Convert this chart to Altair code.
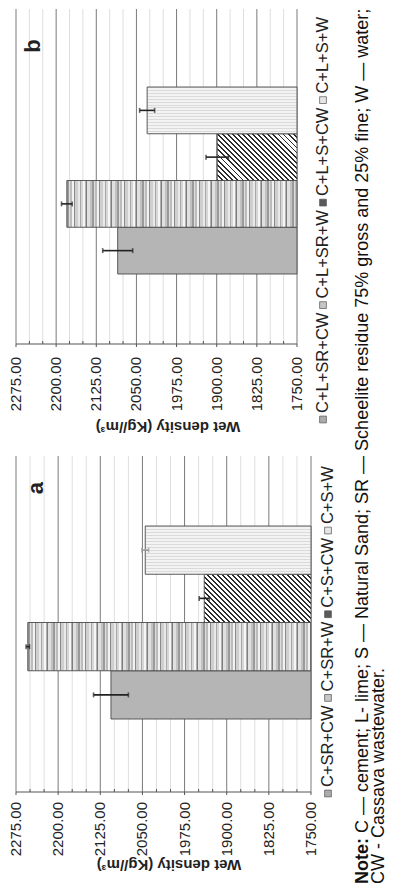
import altair as alt
import pandas as pd

# Wet density (kg/m3) of the mortar mixes, with standard deviations
mixes_a = ["C+SR+CW", "C+SR+W", "C+S+CW", "C+S+W"]
density_a = [2106, 2254, 1940, 2045]
sd_a = [31, 3, 9, 6]

mixes_b = ["C+L+SR+CW", "C+L+SR+W", "C+L+S+CW", "C+L+S+W"]
density_b = [2085, 2180, 1899, 2030]
sd_b = [28, 10, 21, 14]

axis_values = [2275, 2200, 2125, 2050, 1975, 1900, 1825, 1750]
minor_values = [2250, 2225, 2175, 2150, 2100, 2075, 2025, 2000,
                1950, 1925, 1875, 1850, 1800, 1775]
AXIS_MIN, AXIS_MAX = 1750, 2275
axis_title = "Wet density (Kg//m\u00b3)"

note_head = "Note:"
note_line1 = "C \u2014 cement; L- lime; S \u2014 Natural Sand; SR \u2014 Scheelite residue 75% gross and 25% fine; W \u2014 water;"
note_line2 = "CW - Cassava wastewater."

FONT = "Liberation Sans"
INK = "#222222"

# Arial/Liberation advance widths (em) for the legend glyphs
ADV = {"C": .722, "+": .584, "L": .556, "S": .667, "R": .722, "W": .944}


def text_w(s, size):
    return sum(ADV[c] for c in s) * size


def stop(o, c):
    return alt.GradientStop(offset=min(max(o, 0.0), 1.0), color=c)


def stripes_fill(w):
    """Irregular vertical stripes across the bar length."""
    shades = ["#9a9a9a", "#dedede", "#bcbcbc", "#f2f2f2", "#8a8a8a", "#cfcfcf", "#e9e9e9",
              "#a8a8a8", "#d6d6d6", "#f6f6f6", "#b0b0b0", "#7e7e7e", "#e0e0e0", "#c2c2c2"]
    widths = [2, 1, 2, 2, 1, 3, 2, 1, 2, 2, 1, 1, 3, 2]
    stops, pos, i = [], 0.0, 0
    while pos < w:
        k = i % len(shades)
        a, b = pos / w, min(pos + widths[k], w) / w
        stops += [stop(a, shades[k]), stop(b, shades[k])]
        pos += widths[k]
        i += 1
    return alt.LinearGradient(gradient="linear", stops=stops, x1=0, y1=0, x2=1, y2=0)


def hatch_fill(w, h, spacing=5.0, frac=0.38, dark="#2b2b2b", light="#ffffff"):
    """45-degree '\\' hatching drawn with a repeating linear gradient."""
    r = h / w
    c = (1 + r) / (1 + r * r)
    n = max(1, round((w + h) / spacing))
    stops = []
    for k in range(n):
        a, b, e = k / n, (k + frac) / n, (k + 1) / n
        stops += [stop(a, dark), stop(b, dark), stop(b, light), stop(e, light)]
    return alt.LinearGradient(gradient="linear", stops=stops, x1=0, y1=1, x2=c, y2=1 - c * r)


def dots_fill(h, dark="#dadada", light="#f3f3f3", period=3.0):
    """Fine rows of light dots."""
    n = max(1, round(h / period))
    stops = []
    for k in range(n):
        a, b, e = k / n, (k + 0.34) / n, (k + 1) / n
        stops += [stop(a, dark), stop(b, dark), stop(b, light), stop(e, light)]
    return alt.LinearGradient(gradient="linear", stops=stops, x1=0, y1=0, x2=0, y2=1)


SWATCH = ["#ababab", "#c6c6c6", "#5a5a5a", "#e6e6e6"]


def panel(tag, mixes, dens, sds, err_colors, width, height, band_range,
          label_gap, title_x, title_y, tag_xy, legend_x, legend_y0, extra=()):
    df = pd.DataFrame({"mix": mixes, "density": dens, "sd": sds, "ecol": err_colors})
    df["base"] = AXIS_MIN
    df["lo"] = df["density"] - df["sd"]
    df["hi"] = df["density"] + df["sd"]

    xs = alt.Scale(domain=[AXIS_MIN, AXIS_MAX], reverse=True, nice=False, zero=False)
    ys = alt.Scale(domain=list(reversed(mixes)), paddingInner=0, paddingOuter=0,
                   range=list(band_range))
    step = (band_range[1] - band_range[0]) / len(mixes)
    px = lambda v: (v - AXIS_MIN) / (AXIS_MAX - AXIS_MIN) * width

    major = alt.Chart(pd.DataFrame({"v": axis_values,
                                    "lab": [f"{v:.2f}" for v in axis_values]}))
    minor = alt.Chart(pd.DataFrame({"v": minor_values}))
    X = lambda f: alt.X(f, scale=xs, axis=None)

    layers = [
        # value axis: grid, domain line, ticks, labels and title
        minor.mark_rule(color="#dedede", strokeWidth=1).encode(x=X("v:Q")),
        major.mark_rule(color="#7a7a7a", strokeWidth=1).encode(x=X("v:Q")),
        alt.Chart(pd.DataFrame({"a": [AXIS_MAX], "b": [AXIS_MIN]}))
        .mark_rule(color="#555555", strokeWidth=1)
        .encode(x=X("a:Q"), x2="b:Q", y=alt.value(height)),
        minor.mark_rule(color="#555555", strokeWidth=1).encode(
            x=X("v:Q"), y=alt.value(height - 3), y2=alt.value(height)),
        major.mark_rule(color="#555555", strokeWidth=1).encode(
            x=X("v:Q"), y=alt.value(height), y2=alt.value(height + 3)),
        major.mark_text(angle=270, fontSize=15, color=INK, align="right",
                        baseline="middle").encode(
            x=X("v:Q"), y=alt.value(height + label_gap), text="lab:N"),
        alt.Chart(pd.DataFrame({"t": [axis_title]}))
        .mark_text(angle=180, fontSize=15, fontWeight="bold", color=INK,
                   align="center", baseline="middle")
        .encode(x=alt.value(title_x), y=alt.value(height + title_y), text="t:N"),
    ]

    base = alt.Chart(df)
    fills = [
        "#b5b5b5",
        stripes_fill(px(dens[1])),
        hatch_fill(px(dens[2]), step),
        dots_fill(step),
    ]
    for m, f in zip(mixes, fills):
        layers.append(
            base.transform_filter(alt.datum.mix == m)
            .mark_bar(fill=f, stroke="#4a4a4a", strokeWidth=0.9)
            .encode(x=X("density:Q"), x2="base:Q",
                    y=alt.Y("mix:N", scale=ys, axis=None))
        )

    # error bars with end caps
    layers.append(base.mark_rule(strokeWidth=1.6).encode(
        x=X("lo:Q"), x2="hi:Q",
        y=alt.Y("mix:N", scale=ys, axis=None),
        color=alt.Color("ecol:N", scale=None)))
    for f in ["lo", "hi"]:
        layers.append(base.mark_tick(thickness=1.6, size=5).encode(
            x=X(f + ":Q"),
            y=alt.Y("mix:N", scale=ys, axis=None),
            color=alt.Color("ecol:N", scale=None)))

    one = alt.Chart(pd.DataFrame({"t": [tag]}))
    layers.append(one.mark_text(angle=270, fontSize=22, fontWeight="bold", color=INK,
                                align="center", baseline="middle").encode(
        x=alt.value(tag_xy[0]), y=alt.value(tag_xy[1]), text="t:N"))

    # legend, read bottom to top
    size = 16.5
    y = legend_y0
    for m, col in zip(mixes, SWATCH):
        sw = alt.Chart(pd.DataFrame({"t": [m]}))
        layers.append(sw.mark_square(size=46, fill=col, stroke="#555555", strokeWidth=0.7,
                                     opacity=1).encode(x=alt.value(legend_x), y=alt.value(y - 3.5)))
        ty = y - 10
        layers.append(sw.mark_text(angle=270, fontSize=size, color=INK, align="left",
                                   baseline="middle").encode(
            x=alt.value(legend_x), y=alt.value(ty), text="t:N"))
        y = ty - text_w(m, size) - 4

    layers.extend(extra)
    return alt.layer(*layers).properties(width=width, height=height)


# the note runs along the right edge, drawn from the lower panel
NOTE_SIZE = 18
note_df = alt.Chart(pd.DataFrame({"h": [note_head], "l1": [note_line1], "l2": [note_line2]}))
note_layers = [
    note_df.mark_text(angle=270, fontSize=NOTE_SIZE, fontWeight="bold", color="#111111",
                      align="left", baseline="middle").encode(
        x=alt.value(346.5), y=alt.value(428), text="h:N"),
    note_df.mark_text(angle=270, fontSize=NOTE_SIZE, color="#111111",
                      align="left", baseline="middle").encode(
        x=alt.value(346.5), y=alt.value(428 - 2.833 * NOTE_SIZE), text="l1:N"),
    note_df.mark_text(angle=270, fontSize=NOTE_SIZE, color="#111111",
                      align="left", baseline="middle").encode(
        x=alt.value(362.5), y=alt.value(428), text="l2:N"),
]

panel_b = panel("b", mixes_b, density_b, sd_b, ["#222222"] * 4,
                width=281, height=335, band_range=(78, 265),
                label_gap=13, title_x=152, title_y=83, tag_xy=(17, 37),
                legend_x=307, legend_y0=414)

panel_a = panel("a", mixes_a, density_a, sd_a, ["#222222", "#222222", "#222222", "#9a9a9a"],
                width=295, height=336, band_range=(70, 263),
                label_gap=10, title_x=153, title_y=73, tag_xy=(20, 32),
                legend_x=312, legend_y0=341, extra=note_layers)

chart = (
    alt.vconcat(panel_b, panel_a, spacing=112, bounds="flush")
    .properties(padding={"left": 9, "top": 8, "right": 0, "bottom": 0})
    .configure(font=FONT)
    .configure_view(stroke=None)
)

chart.save("out.html", embed_options={"renderer": "svg", "actions": False})
